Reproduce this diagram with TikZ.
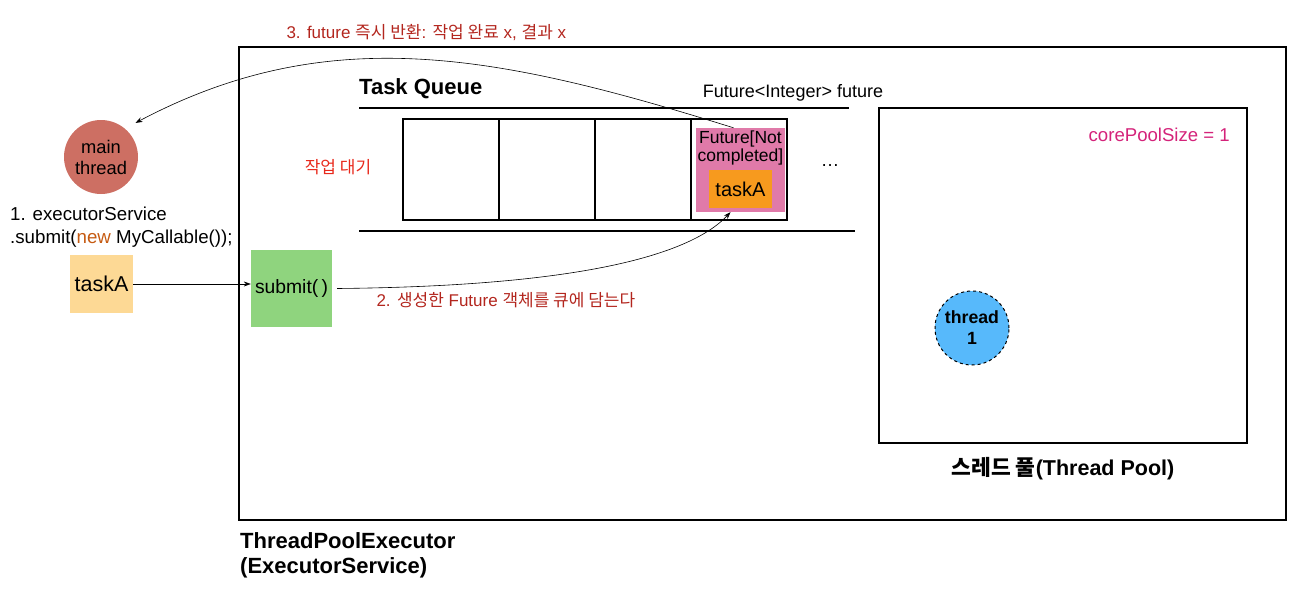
\documentclass[tikz,border=0pt]{standalone}
\usepackage{fontspec}
\setmainfont{Liberation Sans}
\newfontfamily\kr{Noto Sans CJK KR}
\usetikzlibrary{positioning,arrows.meta}
\definecolor{mainred}{RGB}{205,111,99}
\definecolor{taskyellow}{RGB}{253,217,149}
\definecolor{submitgreen}{RGB}{143,212,126}
\definecolor{futurepink}{RGB}{224,122,169}
\definecolor{qorange}{RGB}{247,154,30}
\definecolor{threadblue}{RGB}{87,185,251}
\definecolor{notered}{RGB}{179,38,30}
\definecolor{waitred}{RGB}{232,41,28}
\definecolor{coremagenta}{RGB}{212,35,122}
\definecolor{neworange}{RGB}{197,90,17}
\newcommand*{\px}[1]{\fontsize{#1}{#1}\selectfont}
\tikzset{%
  frame/.style={draw, line width=1.5pt, outer sep=0pt},% executor / pool border
  cell/.style={frame, minimum width=96pt, minimum height=101pt},% queue slot
  blob/.style={inner sep=0pt, align=center},% filled boxes
  thrd/.style={circle, blob, minimum size=74pt},% threads
  note/.style={text=notered, font=\px{17}},% numbered steps
  flow/.style={-{Stealth[length=7pt,width=5pt]}, line width=0.6pt}% arrows
}
\begin{document}
\begin{tikzpicture}[x=1pt, y=-1pt, font=\px{18.5}]
\useasboundingbox (0,0) rectangle (1304,594);

% executor
\node[frame, minimum width=1047pt, minimum height=473pt, anchor=north west] (executor) at (239,47) {};
\node[anchor=north west, align=left, inner sep=0pt, font=\bfseries\fontsize{22}{25}\selectfont] (execlbl) at (240,532) {ThreadPoolExecutor\\(ExecutorService)};

% task queue
\node[anchor=west, inner sep=0pt, font=\bfseries\px{22}] (qlbl) at (359,89) {Task Queue};
\draw[line width=1.5pt] (359,108) -- (849,108);
\draw[line width=1.5pt] (359,231) -- (855,231);
\foreach \i in {1,...,4}
  \node[cell] (cell\i) at ({403+96*(\i-0.5)},169.5) {};
\node[fill=futurepink, minimum width=89pt, minimum height=84pt, blob] (future) at (740.5,170) {};
\node[blob, font=\fontsize{17.5}{17.5}\selectfont] (futurelbl) at (740.5,148) {Future[Not\\completed]};
\node[fill=qorange, minimum width=63pt, minimum height=38pt, blob, font=\px{20}] (qtask) at (740.5,189) {taskA};
\node (dots) at (830,166) {\dots};
\node[font=\px{18}] (futvar) at (793,93) {Future<Integer> future};
\node[text=waitred, font=\px{17}] (wait) at (338,167) {\kr 작업 대기};

% main thread side
\node[thrd, fill=mainred, font=\fontsize{18.3}{21}\selectfont] (main) at (101,157) {main\\thread};
\node[anchor=north west, align=left, inner sep=0pt, font=\fontsize{18.7}{23}\selectfont] (code) at (10,207) {1. executorService\\.submit({\color{neworange}new} MyCallable());};
\node[fill=taskyellow, minimum width=63pt, minimum height=58pt, blob, font=\px{21.5}] (task) at (101.5,284) {taskA};
\node[fill=submitgreen, minimum width=81pt, minimum height=77pt, blob, font=\px{19.3}] (submit) at (291.5,288.5) {submit(\,)};

% thread pool
\node[frame, minimum width=368pt, minimum height=335pt] (pool) at (1063,275.5) {};
\node[below=14pt of pool, inner sep=0pt, font=\bfseries\px{21.5}] (poollbl) {{\kr 스레드 풀}(Thread Pool)};
\node[anchor=east, inner sep=0pt, text=coremagenta, font=\px{18.6}] (core) at (1230,135) {corePoolSize = 1};
\node[thrd, fill=threadblue, draw, dashed, line width=1pt, font=\bfseries\fontsize{17.7}{21}\selectfont] (worker) at (972,328) {thread\\1};

% flows
\draw[flow] (task) -- (task -| submit.west);
\draw[flow] ([xshift=5pt]submit.east) .. controls (600,286) and (695,250) .. ([xshift=-10pt]future.south);
\node[note, anchor=west] (step2) at (373,300) {2. {\kr 생성한} Future {\kr 객체를 큐에 담는다}};
\draw[flow, shorten >=12pt] ([xshift=-7pt]future.north) .. controls (500,55) and (330,20) .. (main.50);
\node[note, anchor=west] (step3) at (283,33) {3. future {\kr 즉시 반환}: {\kr 작업 완료} x, {\kr 결과} x};
\end{tikzpicture}
\end{document}
